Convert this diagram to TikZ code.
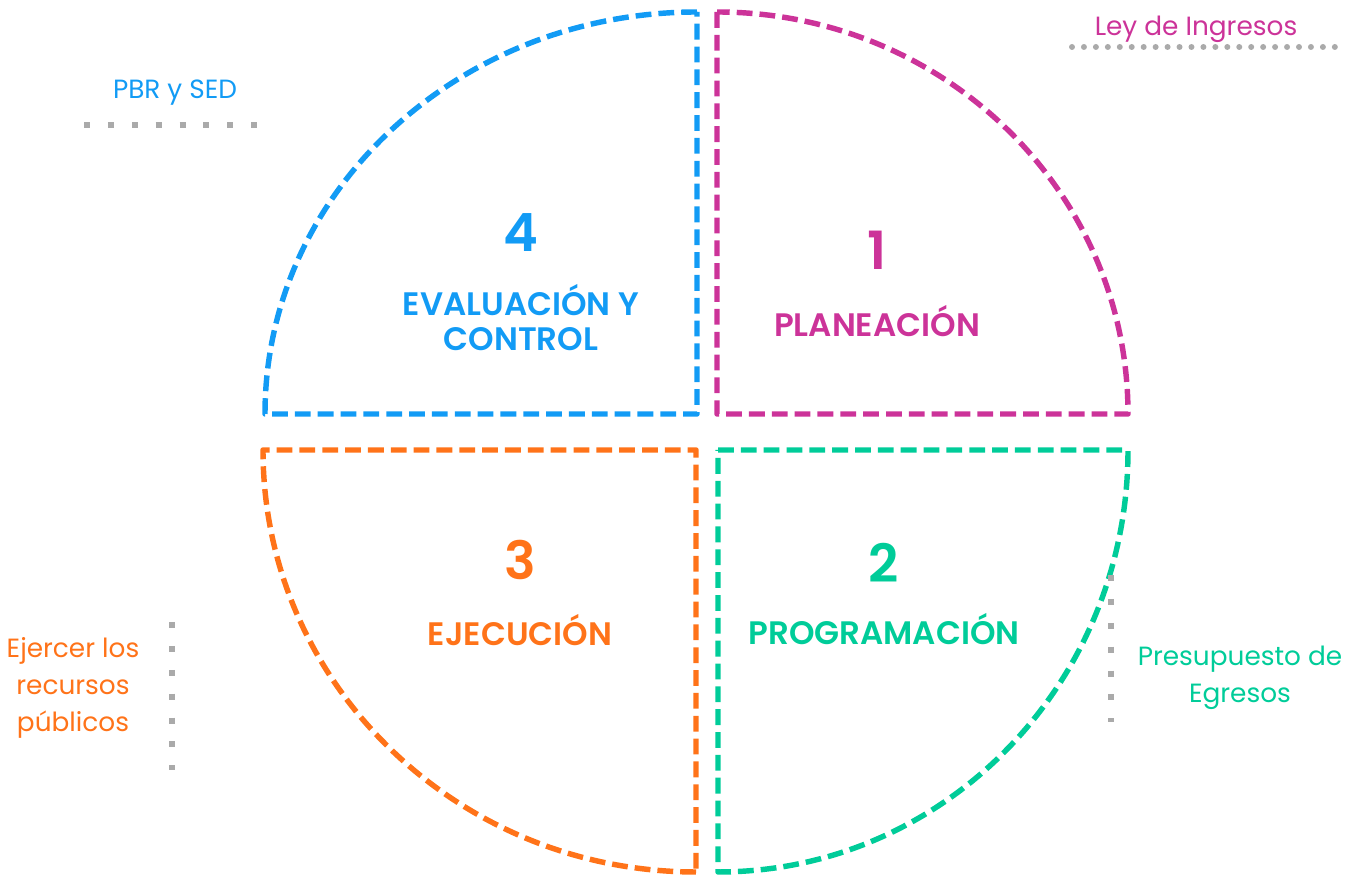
\documentclass[tikz,border=0pt]{standalone}
\usepackage{fontspec}
\setmainfont{Poppins}[BoldFont={Poppins SemiBold}]
\usepackage{tikz}
\definecolor{cblue}{RGB}{18,155,245}
\definecolor{cpink}{RGB}{204,51,153}
\definecolor{corange}{RGB}{255,115,25}
\definecolor{cgreen}{RGB}{0,204,153}
\definecolor{cgray}{RGB}{170,170,170}

\begin{document}
\begin{tikzpicture}[x=0.02cm, y=0.02cm]
\tikzstyle{quarter}=[line width=3.1pt, dash pattern=on 9pt off 4pt, line join=round]
\tikzstyle{num}=[font=\fontsize{30}{30}\selectfont\bfseries]
\tikzstyle{phase}=[font=\fontsize{18.5}{20}\selectfont\bfseries, align=center]
\tikzstyle{note}=[font=\fontsize{15}{21}\selectfont, align=center]
\tikzstyle{squaredots}=[cgray, line width=3.4pt, dash pattern=on 3.4pt off 10.2pt]
\tikzstyle{rounddots}=[cgray, line width=3.4pt, line cap=round, dash pattern=on 0pt off 6.8pt]
\useasboundingbox (0,0) rectangle (1350,875);

% the four quarters
\draw[quarter, cblue] (697,863) arc[start angle=90, end angle=180, x radius=432, y radius=402] -- (697,461) -- cycle;
\draw[quarter, cpink] (717,863) -- (717,461) -- (1128,461) arc[start angle=0, end angle=90, x radius=411, y radius=402] -- cycle;
\draw[quarter, corange] (696,3) arc[start angle=270, end angle=180, x radius=433, y radius=422] -- (696,425) -- cycle;
\draw[quarter, cgreen] (718,425) -- (1128,425) arc[start angle=0, end angle=-90, x radius=410, y radius=422] -- cycle;

\node[num, cblue] (n4) at (521,642) {4};
\node[phase, cblue] (eval) at (521,557) {EVALUACIÓN Y\\CONTROL};
\node[num, cpink] (n1) at (877,625) {1};
\node[phase, cpink] (plan) at (877,554) {PLANEACIÓN};
\node[num, corange] (n3) at (520,315) {3};
\node[phase, corange] (ejec) at (520,245) {EJECUCIÓN};
\node[num, cgreen] (n2) at (884,312) {2};
\node[phase, cgreen] (prog) at (884,246) {PROGRAMACIÓN};

% side notes
\node[note, cblue] (pbr) at (175,782) {PBR y SED};
\node[note, cpink] (ley) at (1196,846) {Ley de Ingresos};
\node[note, corange] (ejer) at (73,187) {Ejercer los\\recursos\\públicos};
\node[note, cgreen] (pres) at (1240,197) {Presupuesto de\\Egresos};

\coordinate (pbrA) at (84,750);
\coordinate (pbrB) at (262,750);
\coordinate (leyA) at (1072,828);
\coordinate (leyB) at (1336,828);
\coordinate (ejerA) at (172,253);
\coordinate (ejerB) at (172,105);
\coordinate (presA) at (1111,300);
\coordinate (presB) at (1111,153);

\draw[squaredots] (pbrA) -- (pbrB);
\draw[rounddots] (leyA) -- (leyB);
\draw[squaredots] (ejerA) -- (ejerB);
\draw[squaredots] (presA) -- (presB);

\end{tikzpicture}
\end{document}
